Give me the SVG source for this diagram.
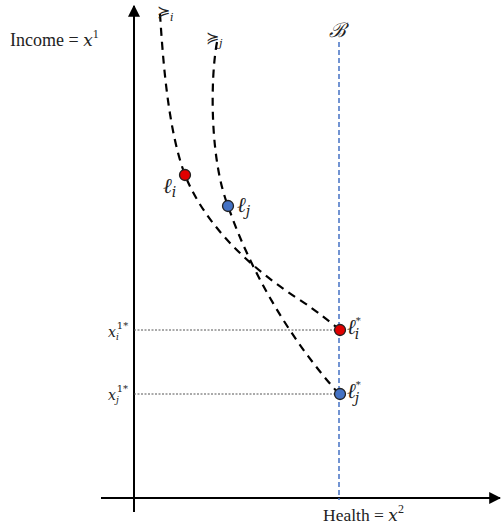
<svg xmlns="http://www.w3.org/2000/svg" width="501" height="524" viewBox="0 0 501 524">
<style>
.t{font-family:"Liberation Serif","DejaVu Serif",serif;fill:#222}
.m{font-family:"DejaVu Serif","Liberation Serif",serif;font-style:italic;fill:#222}
.axis{stroke:#000;stroke-width:2;fill:none}
.ind{stroke:#000;stroke-width:2.2;stroke-dasharray:8,6;fill:none}
.guide{stroke:#555;stroke-width:1;stroke-dasharray:2,1.5;fill:none}
.budget{stroke:#4472c4;stroke-width:1.5;stroke-dasharray:5,3;fill:none}
.red{fill:#e00000;stroke:#222;stroke-width:1.3}
.blue{fill:#4472c4;stroke:#222;stroke-width:1.3}
</style>
<defs>
<marker id="ah2" viewBox="0 0 10 10" refX="9" refY="5" markerWidth="12" markerHeight="12" markerUnits="userSpaceOnUse" orient="auto">
<path d="M0,0 L10,5 L0,10 z" fill="#000"/>
</marker>
</defs>
<g id="axes">
<line class="axis" x1="134" y1="512" x2="134" y2="6" marker-end="url(#ah2)"/>
<line class="axis" x1="101" y1="498" x2="500" y2="498" marker-end="url(#ah2)"/>
<text class="t" x="10" y="46" font-size="18">Income = <tspan class="m" font-size="17">x</tspan><tspan font-size="12" dy="-8">1</tspan></text>
<text class="t" x="323" y="521" font-size="17.5">Health = <tspan class="m" font-size="17">x</tspan><tspan font-size="12" dy="-8">2</tspan></text>
</g>
<g id="connectors">
<line class="budget" x1="339" y1="42" x2="339" y2="500"/>
<line class="guide" x1="134" y1="330" x2="338" y2="330"/>
<line class="guide" x1="134" y1="394" x2="338" y2="394"/>
<path class="ind" d="M160,14 C163,60 168,130 185,175 C205,225 250,268 300,300 C318,312 330,322 340,330"/>
<path class="ind" d="M217,42 C210,80 210,160 228,206 C250,270 290,340 340,395"/>
</g>
<g id="budget-label"><text class="t" x="329" y="37" font-size="20" font-style="italic">ℬ</text></g>
<g id="pref-i"><text class="t" x="157" y="17" font-size="16">≽<tspan class="m" font-size="11" dy="4">i</tspan></text></g>
<g id="pref-j"><text class="t" x="206" y="43" font-size="16">≽<tspan class="m" font-size="11" dy="4">j</tspan></text></g>
<g id="node-li">
<circle class="red" cx="185" cy="175" r="5.5"/>
<text class="m" x="163" y="193" font-size="21">ℓ<tspan font-size="14" dy="4">i</tspan></text>
</g>
<g id="node-lj">
<circle class="blue" cx="228" cy="206" r="5.5"/>
<text class="m" x="237" y="212" font-size="21">ℓ<tspan font-size="14" dy="4">j</tspan></text>
</g>
<g id="node-li-star">
<circle class="red" cx="340" cy="330" r="5.5"/>
<text class="m" x="347" y="334" font-size="21">ℓ<tspan font-size="10" dy="-10">*</tspan><tspan font-size="14" dx="-6" dy="15">i</tspan></text>
</g>
<g id="node-lj-star">
<circle class="blue" cx="340" cy="394" r="5.5"/>
<text class="m" x="347" y="398" font-size="21">ℓ<tspan font-size="10" dy="-10">*</tspan><tspan font-size="14" dx="-6" dy="15">j</tspan></text>
</g>
<g id="label-xi">
<text class="m" x="108" y="337" font-size="14">x<tspan font-size="9" dy="3">i</tspan><tspan font-size="10" dx="-2" dy="-11" font-style="normal">1*</tspan></text>
</g>
<g id="label-xj">
<text class="m" x="108" y="400" font-size="14">x<tspan font-size="9" dy="3">j</tspan><tspan font-size="10" dx="-2" dy="-11" font-style="normal">1*</tspan></text>
</g>
</svg>
